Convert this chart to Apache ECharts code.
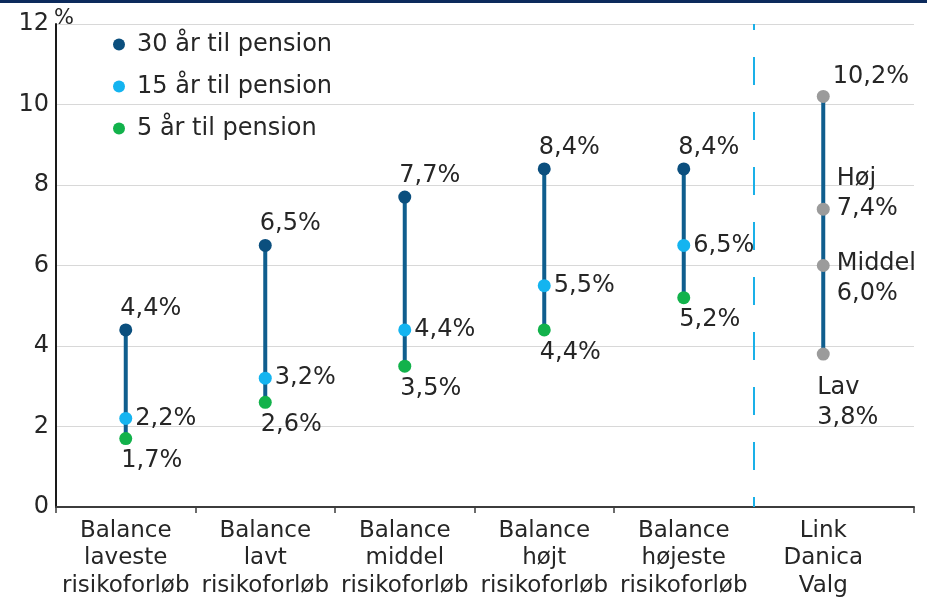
<!DOCTYPE html>
<html>
<head>
<meta charset="utf-8">
<script src="https://cdn.jsdelivr.net/npm/echarts@6/dist/echarts.min.js"></script>
<style>
  html, body { margin: 0; padding: 0; background: #ffffff; }
  #chart { width: 927px; height: 605px; }
</style>
</head>
<body>
<div id="chart"></div>
<script>
// ---- Data ----
const categories = [
  'Balance\nlaveste\nrisikoforløb',
  'Balance\nlavt\nrisikoforløb',
  'Balance\nmiddel\nrisikoforløb',
  'Balance\nhøjt\nrisikoforløb',
  'Balance\nhøjeste\nrisikoforløb',
  'Link\nDanica\nValg'
];
const seriesNames = ['30 år til pension', '15 år til pension', '5 år til pension'];
const years30 = [4.4, 6.5, 7.7, 8.4, 8.4, null];
const years15 = [2.2, 3.2, 4.4, 5.5, 6.5, null];
const years5 = [1.7, 2.6, 3.5, 4.4, 5.2, null];
const linkCategory = 'Link\nDanica\nValg';
const linkNames = ['100% aktier', 'Høj', 'Middel', 'Lav'];
const linkValues = [10.2, 7.4, 6.0, 3.8];
const yTicks = [0, 2, 4, 6, 8, 10, 12];

// ---- Helpers ----
const fmt = v => v.toFixed(1).replace('.', ',') + '%';
const FONT = 'DejaVu Sans';
const TEXT = '#262626';
const FS = 24;

const ranges = categories.map((c, i) => {
  let vals;
  if (c === linkCategory) vals = linkValues;
  else vals = [years30[i], years15[i], years5[i]].filter(v => v != null);
  return [i, Math.min.apply(null, vals), Math.max.apply(null, vals)];
});
const linkIndex = categories.indexOf(linkCategory);

const linkLabelStyles = [
  { position: 'right', distance: 3, offset: [0, -20] },
  { position: 'right', distance: 7, offset: [0, -15] },
  { position: 'right', distance: 7, offset: [0, 13] },
  { position: 'bottom', distance: 12, align: 'left', offset: [-6, 0] }
];
const linkData = linkValues.map((v, k) => ({
  value: [linkIndex, v],
  label: Object.assign({
    show: true,
    formatter: k === 0 ? fmt(v) : linkNames[k] + '\n' + fmt(v),
    fontSize: FS, fontFamily: FONT, color: TEXT, lineHeight: 30
  }, linkLabelStyles[k])
}));

const chart = echarts.init(document.getElementById('chart'), null, { renderer: 'canvas' });

const labelBase = { show: true, fontSize: FS, fontFamily: FONT, color: TEXT, formatter: p => fmt(p.value) };

const option = {
  backgroundColor: '#ffffff',
  animation: false,
  graphic: [
    { type: 'rect', left: 0, top: 0, shape: { width: 927, height: 3 }, style: { fill: '#0c2a5c' }, silent: true }
  ],
  legend: {
    data: seriesNames,
    orient: 'vertical',
    left: 108,
    top: 26,
    itemWidth: 26,
    itemHeight: 12,
    itemGap: 15,
    icon: 'circle',
    textStyle: { fontSize: FS, fontFamily: FONT, color: TEXT, lineHeight: 27 }
  },
  grid: [
    { left: 56, right: 13, top: 24, bottom: 98, containLabel: false, outerBoundsMode: 'none' },
    { left: 56, right: 34, top: 24, bottom: 98, containLabel: false, outerBoundsMode: 'none' }
  ],
  xAxis: [
    {
      gridIndex: 0, type: 'value', min: 0, max: 6.15,
      axisLine: { show: true, lineStyle: { color: '#3c3c3c', width: 2 } },
      axisTick: { show: true, customValues: [0, 1, 2, 3, 4, 6.15], length: 6, lineStyle: { color: '#3c3c3c', width: 1.5 } },
      axisLabel: { show: false },
      splitLine: { show: false }
    },
    {
      gridIndex: 1, type: 'category', data: categories, boundaryGap: true,
      axisLine: { show: false },
      axisTick: { show: false },
      axisLabel: { fontSize: 23, fontFamily: FONT, color: TEXT, lineHeight: 27.5, margin: 10, interval: 0 },
      splitLine: { show: false }
    }
  ],
  yAxis: [
    {
      gridIndex: 0, type: 'value', min: 0, max: 12, interval: 2,
      name: '%', nameLocation: 'end', nameGap: 5, nameMoveOverlap: false,
      nameTextStyle: { fontSize: 21, fontFamily: FONT, color: TEXT, align: 'left', verticalAlign: 'middle', padding: [0, 0, 0, -2] },
      axisLine: { show: true, lineStyle: { color: '#1a1a1a', width: 2 } },
      axisTick: { show: false },
      axisLabel: { fontSize: FS, fontFamily: FONT, color: TEXT, margin: 7 },
      splitLine: { show: true, lineStyle: { color: '#d8d8d8', width: 1 } }
    },
    {
      gridIndex: 1, type: 'value', min: 0, max: 12, interval: 2,
      axisLine: { show: false }, axisTick: { show: false }, axisLabel: { show: false }, splitLine: { show: false }
    }
  ],
  series: [
    {
      type: 'line', xAxisIndex: 0, yAxisIndex: 0, data: [], silent: true,
      markLine: {
        silent: true, symbol: 'none', label: { show: false },
        lineStyle: { color: '#1ab0e8', width: 2, type: [28, 27], dashOffset: 18 },
        data: [{ xAxis: 5 }]
      }
    },
    {
      type: 'custom', xAxisIndex: 1, yAxisIndex: 1, silent: true,
      encode: { x: 0, y: [1, 2] },
      renderItem: (params, api) => {
        const x = api.value(0);
        const lo = api.coord([x, api.value(1)]);
        const hi = api.coord([x, api.value(2)]);
        return { type: 'line', shape: { x1: lo[0], y1: lo[1], x2: hi[0], y2: hi[1] }, style: { stroke: '#0f5e8e', lineWidth: 4 } };
      },
      data: ranges
    },
    {
      name: seriesNames[0], type: 'scatter', xAxisIndex: 1, yAxisIndex: 1,
      symbolSize: 13, itemStyle: { color: '#0b4f7e', opacity: 1 },
      data: years30,
      label: Object.assign({}, labelBase, { position: 'top', distance: 3, offset: [25, 0] })
    },
    {
      name: seriesNames[1], type: 'scatter', xAxisIndex: 1, yAxisIndex: 1,
      symbolSize: 13, itemStyle: { color: '#14b4f0', opacity: 1 },
      data: years15,
      label: Object.assign({}, labelBase, { position: 'right', distance: 3 })
    },
    {
      name: seriesNames[2], type: 'scatter', xAxisIndex: 1, yAxisIndex: 1,
      symbolSize: 13, itemStyle: { color: '#12b24b', opacity: 1 },
      data: years5,
      label: Object.assign({}, labelBase, { position: 'bottom', distance: 4, offset: [26, 0] })
    },
    {
      name: 'Link Danica Valg', type: 'scatter', xAxisIndex: 1, yAxisIndex: 1,
      symbolSize: 13, itemStyle: { color: '#9b9b9b', opacity: 1 },
      data: linkData
    }
  ]
};
chart.setOption(option);
</script>
</body>
</html>
